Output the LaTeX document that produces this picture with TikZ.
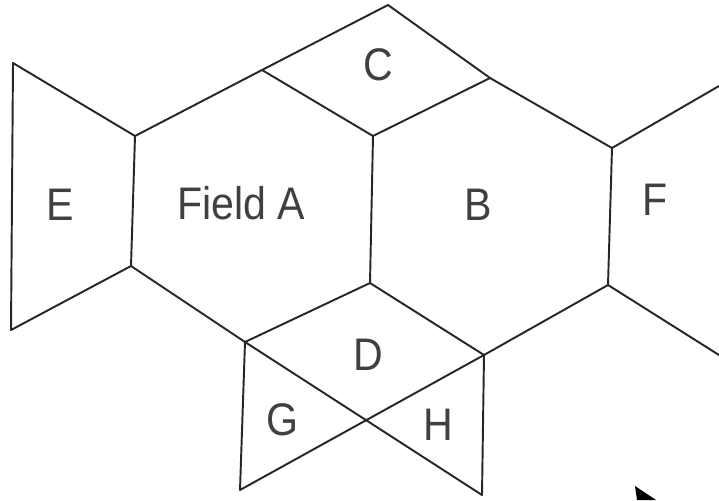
\documentclass[tikz,border=0pt]{standalone}
\usepackage{fontspec}
\setmainfont{Liberation Sans}
\begin{document}
\begin{tikzpicture}[x=0.02cm,y=-0.02cm,
    fieldline/.style={draw=black!85,line width=1.1pt,line cap=round,line join=round},
    fieldlabel/.style={font=\fontsize{26}{30}\selectfont,text=black!75,inner sep=0pt,xscale=0.9}]
    \useasboundingbox (0,0) rectangle (719,500);
    % corners of the fields
    \coordinate (e1) at (13,63);
    \coordinate (e2) at (11,330);
    \coordinate (a1) at (135,136);
    \coordinate (a2) at (262,70);
    \coordinate (a6) at (131,266);
    \coordinate (c1) at (388,5);
    \coordinate (c2) at (490,78);
    \coordinate (b1) at (373,136);
    \coordinate (b2) at (370,283);
    \coordinate (f1) at (612,148);
    \coordinate (f2) at (608,285);
    \coordinate (f3) at (719,86);
    \coordinate (f4) at (719,355);
    \coordinate (d1) at (245,342);
    \coordinate (d3) at (484,355);
    \coordinate (g1) at (240,490);
    \coordinate (h1) at (482,495);
    % field E
    \draw[fieldline] (a1) -- (e1) -- (e2) -- (a6);
    % field A
    \draw[fieldline] (a1) -- (a6) -- (d1) -- (b2) -- (b1);
    % top edge, C and B
    \draw[fieldline] (a1) -- (a2) -- (c1) -- (c2) -- (f1) -- (f3);
    \draw[fieldline] (a2) -- (b1) -- (c2);
    \draw[fieldline] (f1) -- (f2) -- (f4);
    \draw[fieldline] (f2) -- (d3) -- (b2);
    % D, G and H
    \draw[fieldline] (d1) -- (h1) -- (d3) -- (g1) -- (d1);
    % cursor
    \fill[black] (635,486) -- (656,500) -- (637,500) -- cycle;
    % labels
    \node[fieldlabel] (lblE) at (60,205) {E};
    \node[fieldlabel] (lblA) at (241,203) {Field A};
    \node[fieldlabel] (lblB) at (478,205) {B};
    \node[fieldlabel] (lblC) at (378,65) {C};
    \node[fieldlabel] (lblD) at (368,355) {D};
    \node[fieldlabel] (lblF) at (655,200) {F};
    \node[fieldlabel] (lblG) at (282,420) {G};
    \node[fieldlabel] (lblH) at (438,425) {H};
\end{tikzpicture}
\end{document}
